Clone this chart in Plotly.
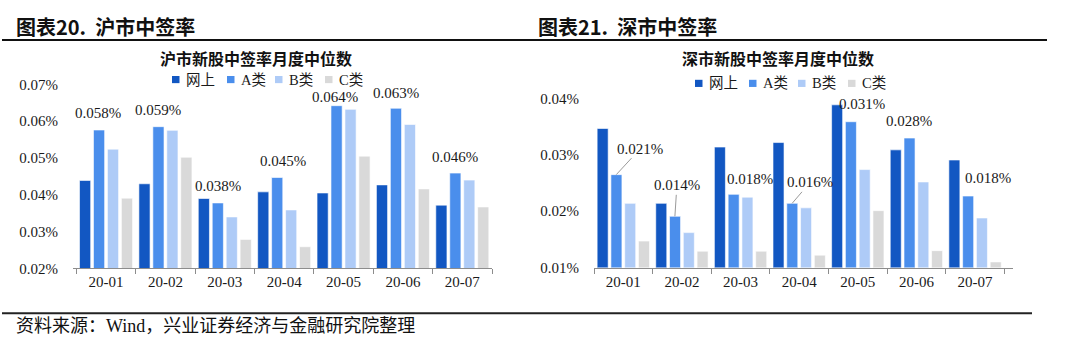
import plotly.graph_objects as go

# ---------------- data ----------------
categories = ["20-01", "20-02", "20-03", "20-04", "20-05", "20-06", "20-07"]
series_names = ["网上", "A类", "B类", "C类"]

# 沪市 (percent units)
sh_online = [0.0439, 0.0430, 0.0390, 0.0408, 0.0405, 0.0427, 0.0372]
sh_a = [0.0576, 0.0585, 0.0378, 0.0447, 0.0642, 0.0635, 0.0459]
sh_b = [0.0524, 0.0575, 0.0340, 0.0359, 0.0632, 0.0591, 0.0440]
sh_c = [0.0391, 0.0502, 0.0279, 0.0259, 0.0505, 0.0416, 0.0367]
sh_labels = ["0.058%", "0.059%", "0.038%", "0.045%", "0.064%", "0.063%", "0.046%"]

# 深市 (percent units)
sz_online = [0.0347, 0.0214, 0.0314, 0.0322, 0.0389, 0.0309, 0.0291]
sz_a = [0.0265, 0.0191, 0.0230, 0.0214, 0.0359, 0.0330, 0.0227]
sz_b = [0.0214, 0.0162, 0.0225, 0.0206, 0.0274, 0.0252, 0.0188]
sz_c = [0.0147, 0.0129, 0.0129, 0.0122, 0.0201, 0.0130, 0.0110]
sz_labels = ["0.021%", "0.014%", "0.018%", "0.016%", "0.031%", "0.028%", "0.018%"]
sz_label_series = [1, 1, 2, 1, 0, 1, 1]   # which series each label refers to

sh_yticks = [0.02, 0.03, 0.04, 0.05, 0.06, 0.07]
sz_yticks = [0.01, 0.02, 0.03, 0.04]

colors = ["#1257C2", "#4A8EEC", "#AECBF7", "#D9D9D9"]

# ---------------- layout constants ----------------
W, H = 1080, 349
SERIF = "Liberation Serif, 'Noto Sans CJK SC', serif"
CJK = "'Noto Sans CJK SC', sans-serif"
TXT = "#1a1a1a"

L_X0, L_X1 = 73, 492
R_X0, R_X1 = 594, 1013
L_Y0, L_Y1 = 273, 80
R_Y0, R_Y1 = 272, 95
BARGAP = 0.06

# manual legend item positions (left edge of square, px) and vertical centre
L_LEG_X = [172, 227, 275, 325]
L_LEG_Y = 75
R_LEG_X = [695, 749, 798, 848]
R_LEG_Y = 79

# label placement offsets (px) for the left chart labels
L_LABEL_DX = [-1, 0, 0, 6, -2, 0, 0]
L_LABEL_DY = [17, 17, 17, 17, 9, 15, 16]


def px_x(p):
    return p / W


def px_y(p):
    return 1 - p / H


fig = go.Figure()

sh_series = [sh_online, sh_a, sh_b, sh_c]
sz_series = [sz_online, sz_a, sz_b, sz_c]

for i, (name, vals) in enumerate(zip(series_names, sh_series)):
    fig.add_trace(go.Bar(x=categories, y=vals, name=name, marker_color=colors[i],
                         marker_line=dict(color="rgba(255,255,255,0.6)", width=1),
                         xaxis="x", yaxis="y", showlegend=False))
for i, (name, vals) in enumerate(zip(series_names, sz_series)):
    fig.add_trace(go.Bar(x=categories, y=vals, name=name, marker_color=colors[i],
                         marker_line=dict(color="rgba(255,255,255,0.6)", width=1),
                         xaxis="x2", yaxis="y2", showlegend=False))

annotations = []
shapes = []


def slot_offset(x0, x1, idx):
    catw = (x1 - x0) / len(categories)
    slot = catw * (1 - BARGAP) / 4
    return (idx - 1.5) * slot


# left labels on the A-series bars
for c, v, t, dx, dy in zip(categories, sh_a, sh_labels, L_LABEL_DX, L_LABEL_DY):
    annotations.append(dict(x=c, y=v, xref="x", yref="y", text=t, showarrow=False,
                            xshift=slot_offset(L_X0, L_X1, 1) + dx, yshift=dy,
                            yanchor="middle", font=dict(family=SERIF, size=15, color=TXT)))

# right labels
r_cfg = [
    dict(arrow=True, ax=24, ay=-26),
    dict(arrow=True, ax=2, ay=-31),
    dict(arrow=False, dx=2, dy=18),
    dict(arrow=True, ax=18, ay=-21),
    dict(arrow=False, dx=25, dy=1),
    dict(arrow=False, dx=0, dy=17),
    dict(arrow=False, dx=20, dy=18),
]
for c, t, s, cfg in zip(categories, sz_labels, sz_label_series, r_cfg):
    v = sz_series[s][categories.index(c)]
    off = slot_offset(R_X0, R_X1, s)
    if cfg["arrow"]:
        annotations.append(dict(x=c, y=v, xref="x2", yref="y2", text=t, showarrow=True,
                                arrowhead=0, arrowwidth=1, arrowcolor="#9a9a9a",
                                ax=cfg["ax"], ay=cfg["ay"], xshift=off, standoff=0,
                                font=dict(family=SERIF, size=15, color=TXT)))
    else:
        annotations.append(dict(x=c, y=v, xref="x2", yref="y2", text=t, showarrow=False,
                                xshift=off + cfg["dx"], yshift=cfg["dy"], yanchor="middle",
                                font=dict(family=SERIF, size=15, color=TXT)))

# manual legends
for xs, yc in ((L_LEG_X, L_LEG_Y), (R_LEG_X, R_LEG_Y)):
    for i, name in enumerate(series_names):
        x0 = xs[i]
        shapes.append(dict(type="rect", xref="paper", yref="paper",
                           x0=px_x(x0), x1=px_x(x0 + 7.5), y0=px_y(yc + 3.75), y1=px_y(yc - 3.75),
                           fillcolor=colors[i], line=dict(width=0)))
        annotations.append(dict(x=px_x(x0 + 12), y=px_y(yc), xref="paper", yref="paper",
                                xanchor="left", yanchor="middle", text=name, showarrow=False,
                                font=dict(family=SERIF, size=14.5, color=TXT)))

# headers, subtitles, footer
annotations += [
    dict(x=px_x(14), y=px_y(19), xref="paper", yref="paper", xanchor="left", yanchor="middle",
         text="<b>图表20.  沪市中签率</b>", showarrow=False, font=dict(family=CJK, size=20, color="#111")),
    dict(x=px_x(536), y=px_y(19), xref="paper", yref="paper", xanchor="left", yanchor="middle",
         text="<b>图表21.  深市中签率</b>", showarrow=False, font=dict(family=CJK, size=20, color="#111")),
    dict(x=px_x(256), y=px_y(52), xref="paper", yref="paper", xanchor="center", yanchor="middle",
         text="<b>沪市新股中签率月度中位数</b>", showarrow=False, font=dict(family=CJK, size=16, color="#111")),
    dict(x=px_x(778), y=px_y(52), xref="paper", yref="paper", xanchor="center", yanchor="middle",
         text="<b>深市新股中签率月度中位数</b>", showarrow=False, font=dict(family=CJK, size=16, color="#111")),
    dict(x=px_x(14), y=px_y(333), xref="paper", yref="paper", xanchor="left", yanchor="middle",
         text="资料来源：Wind，兴业证券经济与金融研究院整理", showarrow=False,
         font=dict(family=SERIF, size=18, color="#111")),
]

shapes += [
    dict(type="line", xref="paper", yref="paper", x0=px_x(2), x1=px_x(1047),
         y0=px_y(33.5), y1=px_y(33.5), line=dict(color="#111", width=2)),
    dict(type="line", xref="paper", yref="paper", x0=px_x(2), x1=px_x(1032),
         y0=px_y(320), y1=px_y(320), line=dict(color="#222", width=2)),
]

xcommon = dict(type="category", showgrid=False, showline=True, linecolor="#8c8c8c", linewidth=1,
               ticks="outside", tickson="boundaries", ticklen=5, tickcolor="#8c8c8c",
               tickfont=dict(family=SERIF, size=15, color=TXT), fixedrange=True)
ycommon = dict(showgrid=False, showline=False, zeroline=False, ticks="",
               ticklabelstandoff=14,
               tickfont=dict(family=SERIF, size=15, color=TXT), fixedrange=True)

fig.update_layout(
    width=W, height=H, margin=dict(l=0, r=0, t=0, b=0),
    paper_bgcolor="white", plot_bgcolor="white", showlegend=False,
    barmode="group", bargap=BARGAP, bargroupgap=0.2,
    xaxis=dict(domain=[px_x(L_X0), px_x(L_X1)], anchor="y", **xcommon),
    yaxis=dict(domain=[px_y(L_Y0), px_y(L_Y1)], anchor="x", range=[0.02, 0.07],
               tickvals=sh_yticks, ticktext=[f"{v:.2f}%" for v in sh_yticks], **ycommon),
    xaxis2=dict(domain=[px_x(R_X0), px_x(R_X1)], anchor="y2", **xcommon),
    yaxis2=dict(domain=[px_y(R_Y0), px_y(R_Y1)], anchor="x2", range=[0.01, 0.04],
                tickvals=sz_yticks, ticktext=[f"{v:.2f}%" for v in sz_yticks], **ycommon),
    annotations=annotations, shapes=shapes,
)

fig.write_html("out.html")
